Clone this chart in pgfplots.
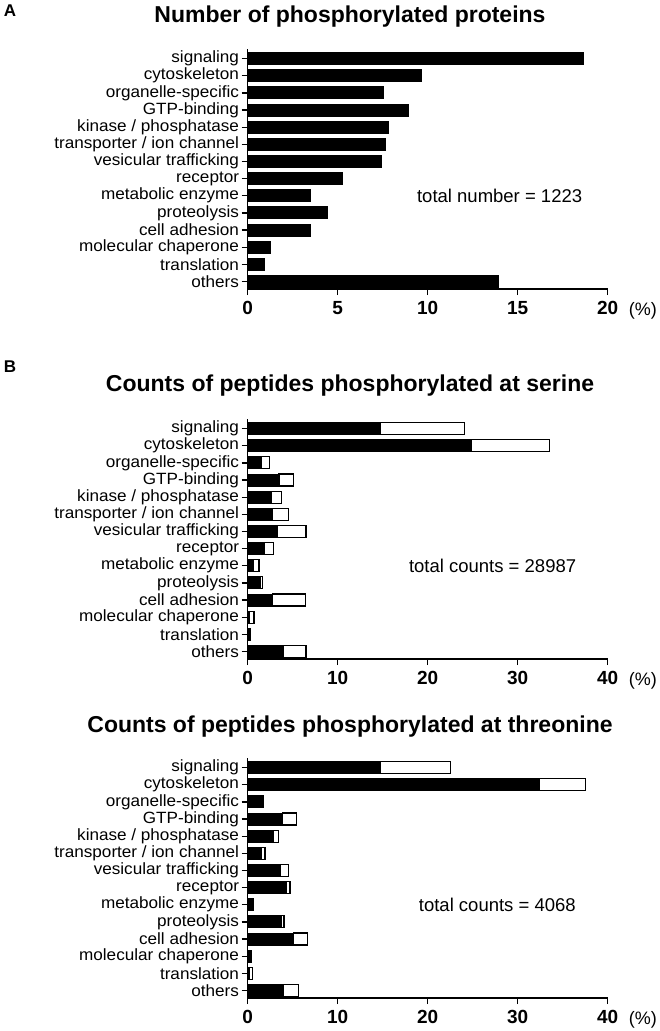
\documentclass[border=0pt]{standalone}
\usepackage{fontspec}
\setmainfont{Liberation Sans}
\newfontfamily\widesans{Liberation Sans}[FakeStretch=1.05]
\usepackage{pgfplots}
\pgfplotsset{compat=1.18}
\begin{document}
\begin{tikzpicture}
\path[use as bounding box] (0,0) rectangle (659pt,-1031pt);
\pgfplotsset{
 myaxis/.style={
  scale only axis, width=360pt, height=240pt, anchor=south west,
  xmin=0, ymin=-0.44, ymax=13.56,
  axis x line*=bottom, axis y line*=left,
  tick align=outside, major tick length=6pt,
  axis line style={line width=1.3pt},
  major tick style={line width=1.3pt, black},
  ytick={0,...,13},
  yticklabels={others, translation, molecular chaperone, cell adhesion, proteolysis, metabolic enzyme, receptor, vesicular trafficking, transporter / ion channel, kinase / phosphatase, GTP-binding, organelle-specific, cytoskeleton, signaling},
  yticklabel style={font=\widesans\fontsize{16.3}{16.3}\selectfont, inner sep=2.5pt},
  xticklabel style={font=\bfseries\fontsize{19}{19}\selectfont, yshift=-3pt},
  clip=false,
 },
 blk/.style={fill=black, draw=black, line width=1pt},
 wht/.style={fill=white, draw=black, line width=1.2pt},
}
% titles
\node[font=\bfseries\fontsize{17}{17}\selectfont] at (10pt,-11pt) {A};
\node[font=\bfseries\fontsize{17}{17}\selectfont] at (10pt,-367pt) {B};
\node[font=\bfseries\fontsize{23}{23}\selectfont] at (350pt,-17pt) {Number of phosphorylated proteins};
\node[font=\bfseries\fontsize{23}{23}\selectfont] at (350pt,-386pt) {Counts of peptides phosphorylated at serine};
\node[font=\bfseries\fontsize{23}{23}\selectfont] at (350pt,-727pt) {Counts of peptides phosphorylated at threonine};

% Panel A
\begin{axis}[myaxis, at={(247.7pt,-289pt)}, xmax=20, xtick={0,5,10,15,20}, xticklabels={0,5,10,15,20}, xbar, bar width=12pt]
\addplot[blk] coordinates {(13.92,0) (0.93,1) (1.26,2) (3.49,3) (4.45,4) (3.49,5) (5.26,6) (7.43,7) (7.64,8) (7.82,9) (8.96,10) (7.57,11) (9.66,12) (18.67,13)};
\node[anchor=west, inner sep=0, font=\fontsize{18.5}{18.5}\selectfont] at (axis cs:9.4,5) {total number = 1223};
\node[anchor=west, inner sep=0, font=\fontsize{18}{18}\selectfont] at (rel axis cs:1,0) [xshift=21pt, yshift=-22pt] {(\%)};
\end{axis}

% Panel B serine
\begin{axis}[myaxis, at={(247.7pt,-659pt)}, xmax=40, xtick={0,10,20,30,40}, xticklabels={0,10,20,30,40}, xbar stacked, bar width=12pt]
\addplot[blk] coordinates {(3.96,0) (0.15,1) (0.15,2) (2.78,3) (1.37,4) (0.63,5) (1.85,6) (3.30,7) (2.74,8) (2.59,9) (3.48,10) (1.48,11) (24.9,12) (14.7,13)};
\addplot[wht] coordinates {(2.52,0) (0.15,1) (0.55,2) (3.63,3) (0.30,4) (0.63,5) (1.04,6) (3.18,7) (1.82,8) (1.15,9) (1.59,10) (0.93,11) (8.65,12) (9.37,13)};
\node[anchor=west, inner sep=0, font=\fontsize{18.5}{18.5}\selectfont] at (axis cs:17.9,5) {total counts = 28987};
\node[anchor=west, inner sep=0, font=\fontsize{18}{18}\selectfont] at (rel axis cs:1,0) [xshift=21pt, yshift=-22pt] {(\%)};
\end{axis}

% Panel B threonine
\begin{axis}[myaxis, at={(247.7pt,-998pt)}, xmax=40, xtick={0,10,20,30,40}, xticklabels={0,10,20,30,40}, xbar stacked, bar width=12pt]
\addplot[blk] coordinates {(3.96,0) (0.15,1) (0.37,2) (5.07,3) (3.74,4) (0.70,5) (4.26,6) (3.63,7) (1.48,8) (2.85,9) (3.85,10) (1.81,11) (32.4,12) (14.7,13)};
\addplot[wht] coordinates {(1.67,0) (0.41,1) (0,2) (1.56,3) (0.30,4) (0,5) (0.44,6) (0.93,7) (0.45,8) (0.56,9) (1.59,10) (0,11) (5.15,12) (7.8,13)};
\node[anchor=west, inner sep=0, font=\fontsize{18.5}{18.5}\selectfont] at (axis cs:19.0,5) {total counts = 4068};
\node[anchor=west, inner sep=0, font=\fontsize{18}{18}\selectfont] at (rel axis cs:1,0) [xshift=21pt, yshift=-22pt] {(\%)};
\end{axis}
\end{tikzpicture}
\end{document}
